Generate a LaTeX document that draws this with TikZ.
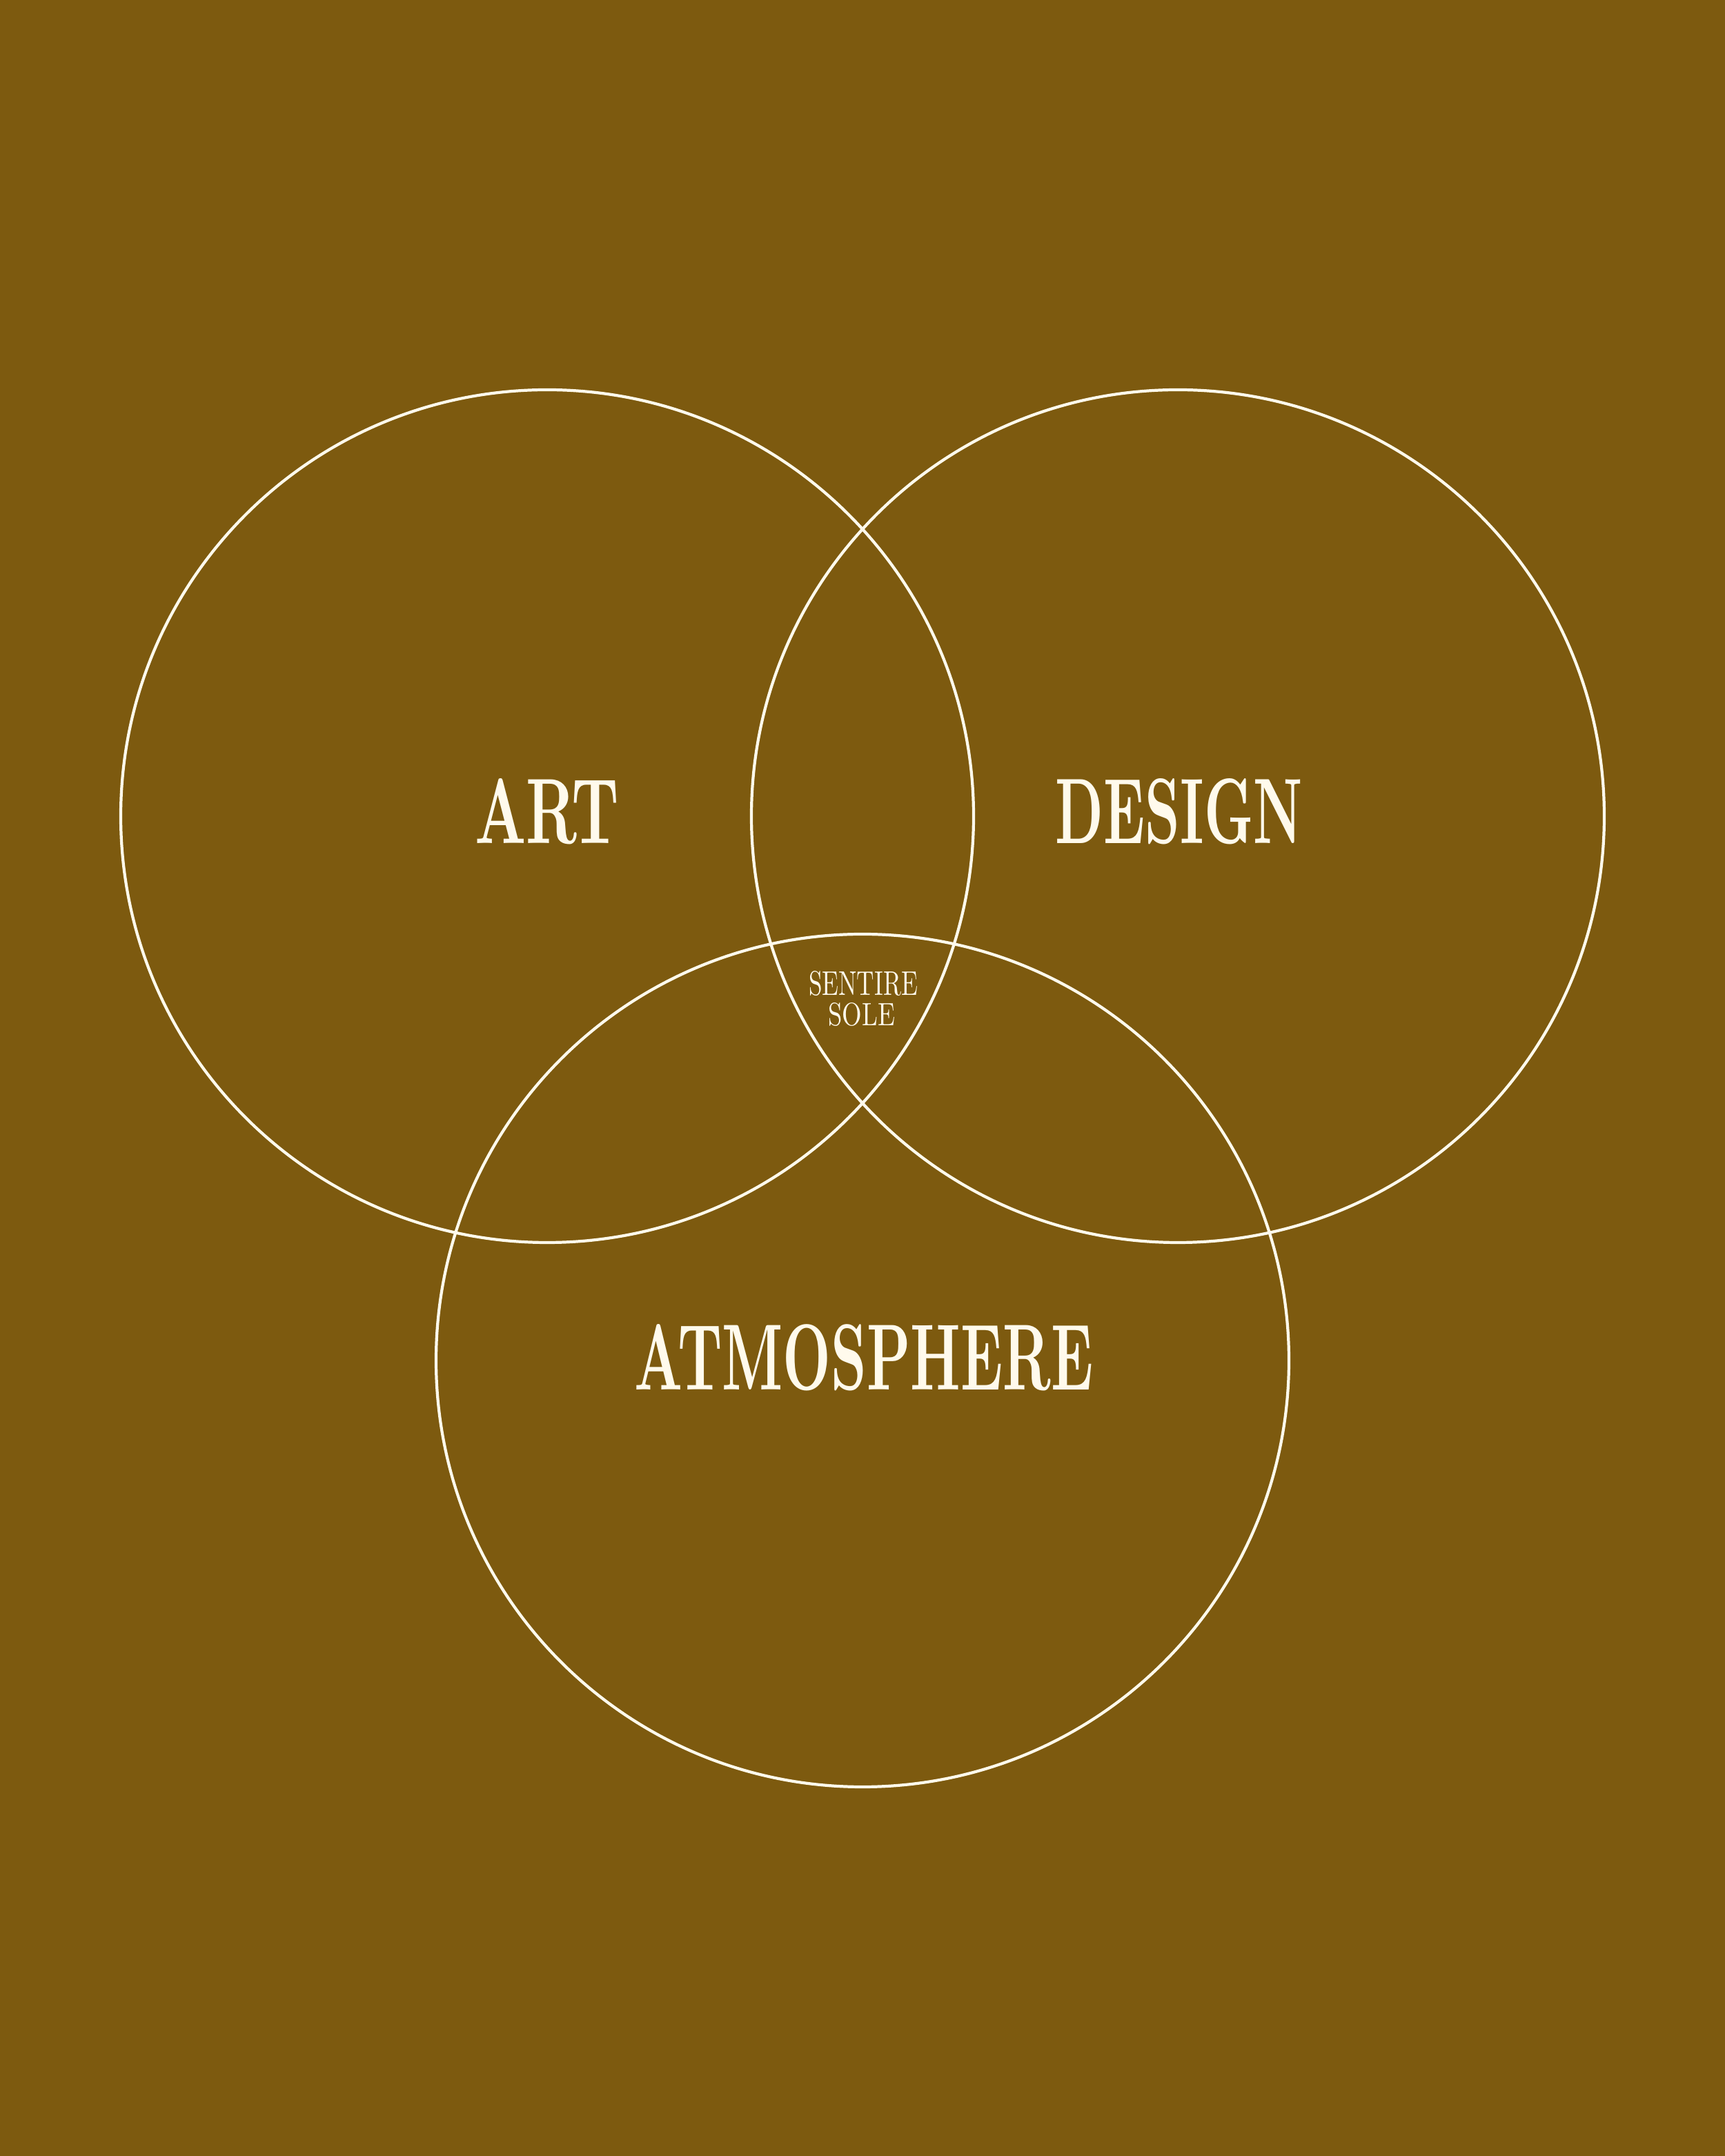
\documentclass[tikz,border=0pt]{standalone}
\usepackage{graphicx}
\definecolor{bgbrown}{HTML}{7D5A0F}
\definecolor{cream}{HTML}{FFFAEC}
\begin{document}
\begin{tikzpicture}[
  ring/.style={circle, draw=cream, line width=1.2pt, minimum size=12.36cm, inner sep=0pt},
  lbl/.style={inner sep=0pt, text=cream, anchor=center, font=\bfseries}
]
\fill[bgbrown] (0,0) rectangle (25,31.25);
\useasboundingbox (0,0) rectangle (25,31.25);
\node[ring] (art) at (7.93,19.42) {};
\node[ring] (design) at (17.07,19.42) {};
\node[ring] (atmo) at (12.50,11.53) {};
\node[lbl] (tart) at (7.925,19.49) {\resizebox{2.09cm}{0.94cm}{ART}};
\node[lbl] (tdesign) at (17.09,19.49) {\resizebox{3.58cm}{0.94cm}{DESIGN}};
\node[lbl] (tatmo) at (12.52,11.575) {\resizebox{6.65cm}{0.95cm}{ATMOSPHERE}};
\node[lbl, font=\mdseries] (tsentire) at (12.51,16.995) {\resizebox{1.58cm}{0.35cm}{SENTIRE}};
\node[lbl, font=\mdseries] (tsole) at (12.49,16.545) {\resizebox{0.97cm}{0.33cm}{SOLE}};
\end{tikzpicture}
\end{document}
